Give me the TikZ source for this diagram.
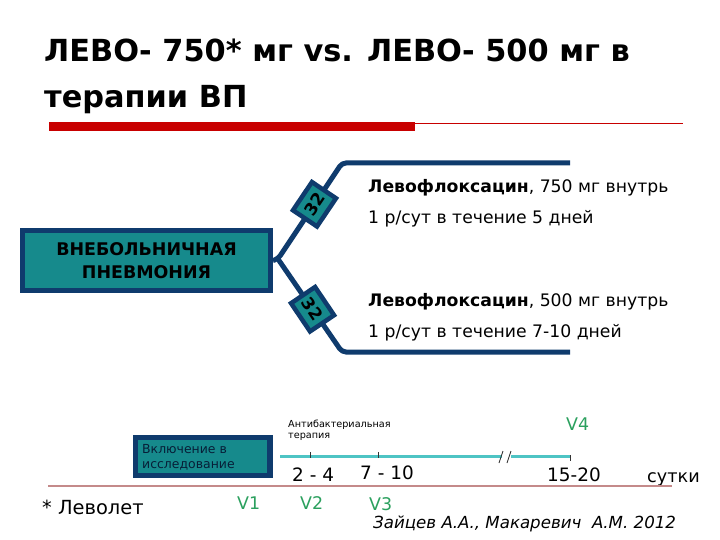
\documentclass[tikz,border=0pt]{standalone}
\usepackage{fontspec}
\usetikzlibrary{calc}
\setmainfont{DejaVu Sans}
\definecolor{navy}{RGB}{15,59,109}
\definecolor{tealf}{RGB}{22,138,140}
\definecolor{ltteal}{RGB}{78,196,196}
\definecolor{vgreen}{RGB}{43,160,94}
\definecolor{barred}{RGB}{200,0,0}
\definecolor{pinkline}{RGB}{196,138,138}
\tikzset{
  fs/.style={font=\fontsize{#1}{#1}\selectfont},
  branch/.style={draw=navy, line width=5bp, rounded corners=4bp},
  badge/.style={draw=navy, fill=tealf, line width=4.5bp, minimum width=34bp, minimum height=29bp, inner sep=0pt, font=\bfseries\fontsize{17}{17}\selectfont},
  txt/.style={anchor=base west, inner sep=0pt},
  vlab/.style={anchor=base west, inner sep=0pt, text=vgreen, font=\fontsize{17.5}{17.5}\selectfont},
}
\begin{document}
\begin{tikzpicture}[x=1bp,y=-1bp]
\useasboundingbox (0,0) rectangle (720,540);
% title
\node[txt, font=\bfseries\fontsize{30.5}{30.5}\selectfont] (t1) at (44,62) {ЛЕВО- 750* мг vs. ЛЕВО- 500 мг в};
\node[txt, font=\bfseries\fontsize{30.5}{30.5}\selectfont] (t2) at (44,108) {терапии ВП};
\fill[barred] (49,122) rectangle (415,131);
\draw[barred, line width=1bp] (415,123.5) -- (683,123.5);
% main box
\node[draw=navy, fill=tealf, line width=5bp, minimum width=248bp, minimum height=60bp, align=center, inner sep=0pt,
  font=\bfseries\fontsize{17.5}{23}\selectfont] (box) at (146.5,260.5) {ВНЕБОЛЬНИЧНАЯ\\ПНЕВМОНИЯ};
\coordinate (J) at (278,259);
\coordinate (u1) at (342,163);
\coordinate (u2) at (570,163);
\coordinate (d1) at (342,352);
\coordinate (d2) at (570,352);
\draw[branch] (box.east) -- (J) -- (u1) -- (u2);
\draw[branch] (J) -- (d1) -- (d2);
\node[badge, rotate=56] (b1) at ($(J)!0.57!(u1)$) {32};
\node[badge, rotate=-56] (b2) at ($(J)!0.54!(d1)$) {32};
% right texts
\node[txt, fs=17.3] (r1) at (368,193) {\textbf{Левофлоксацин}, 750 мг внутрь};
\node[txt, fs=17.3] (r2) at (368,224) {1 р/сут в течение 5 дней};
\node[txt, fs=17.3] (r3) at (368,306) {\textbf{Левофлоксацин}, 500 мг внутрь};
\node[txt, fs=17.3] (r4) at (368,337) {1 р/сут в течение 7-10 дней};
% timeline box
\fill[navy] (133,435) rectangle (273,478);
\fill[tealf] (138,440) rectangle (267,473);
\node[txt, text=navy!50!black, fs=12.5] (inc1) at (142,453) {Включение в};
\node[txt, text=navy!50!black, fs=12.5] (inc2) at (142,468) {исследование};
% timeline
\coordinate (a0) at (280,456);
\coordinate (a1) at (502,456);
\coordinate (a2) at (511,456);
\coordinate (a3) at (570,456);
\draw[ltteal, line width=3bp] (a0) -- (a1) (a2) -- (a3);
\draw[black!80, line width=0.8bp] (310,452) -- (310,458) (378,452) -- (378,458) (570,455) -- (570,461);
\draw[black!80, line width=0.9bp] (499,463) -- (503,451) (507,463) -- (511,451);
\node[txt, fs=9.7] (ab1) at (288,427) {Антибактериальная};
\node[txt, fs=9.7] (ab2) at (288,438) {терапия};
\node[txt, fs=18.5] (d24) at (292,481) {2 - 4};
\node[txt, fs=18.5] (d710) at (360,479) {7 - 10};
\node[txt, fs=18.5] (d1520) at (547,481) {15-20};
\node[txt, fs=17.7] (sut) at (647,482) {сутки};
\draw[pinkline, line width=2bp] (48,486) -- (672,486);
\node[vlab] (v1) at (237,509) {V1};
\node[vlab] (v2) at (300,509) {V2};
\node[vlab] (v3) at (369,510) {V3};
\node[vlab] (v4) at (566,430) {V4};
\node[txt, fs=19.5] (lev) at (42,514) {* Леволет};
\node[txt, font=\itshape\fontsize{16.7}{16.7}\selectfont] (auth) at (373,528) {Зайцев А.А., Макаревич\ \ А.М. 2012};
\end{tikzpicture}
\end{document}
